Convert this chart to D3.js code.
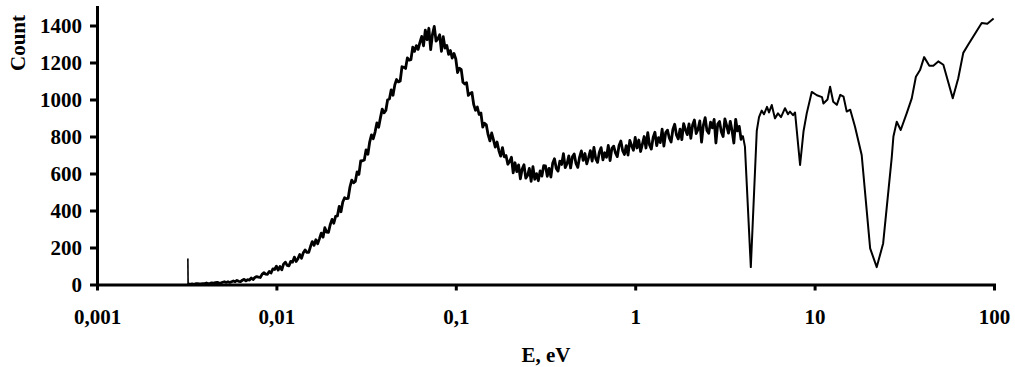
<!DOCTYPE html>
<html>
<head>
<meta charset="utf-8">
<script src="https://cdn.jsdelivr.net/npm/d3@7"></script>
<style>
  body { margin: 0; background: #fff; }
  text { font-family: "Liberation Serif", "Times New Roman", serif; font-weight: bold; fill: #000; }
</style>
</head>
<body>
<div id="chart"></div>
<script>
// spectrum, split by energy range
var energyA = [0.00321, 0.00322,
  0.003236,0.003311,0.003388,0.003467,0.003548,0.003631,0.003715,0.003802,0.003890,0.003981,
  0.004074,0.004169,0.004266,0.004365,0.004467,0.004571,0.004677,0.004786,0.004898,0.005012,
  0.005129,0.005248,0.005370,0.005495,0.005623,0.005754,0.005888,0.006026,0.006166,0.006310,
  0.006457,0.006607,0.006761,0.006918,0.007079,0.007244,0.007413,0.007586,0.007762,0.007943,
  0.008128,0.008318,0.008511,0.008710,0.008913,0.009120,0.009333,0.009550,0.009772];
var countA = [140, 1,
  3,1,3,1,4,5,3,3,5,5,
  8,4,6,9,6,10,11,9,8,12,
  15,11,15,11,15,19,15,22,17,16,
  23,28,20,26,24,35,27,38,43,40,
  38,55,64,56,55,70,62,84,81];

var energyB = [
  0.01000,0.01023,0.01047,0.01072,0.01096,0.01122,0.01148,0.01175,0.01202,0.01230,
  0.01259,0.01288,0.01318,0.01349,0.01380,0.01413,0.01445,0.01479,0.01514,0.01549,
  0.01585,0.01622,0.01660,0.01698,0.01738,0.01778,0.01820,0.01862,0.01905,0.01950,
  0.01995,0.02042,0.02089,0.02138,0.02188,0.02239,0.02291,0.02344,0.02399,0.02455,
  0.02512,0.02570,0.02630,0.02692,0.02754,0.02818,0.02884,0.02951,0.03020,0.03090,
  0.03162,0.03236,0.03311,0.03388,0.03467,0.03548,0.03631,0.03715,0.03802,0.03890,
  0.03981,0.04074,0.04169,0.04266,0.04365,0.04467,0.04571,0.04677,0.04786,0.04898,
  0.05012,0.05129,0.05248,0.05370,0.05495,0.05623,0.05754,0.05888,0.06026,0.06166,
  0.06310,0.06457,0.06607,0.06761,0.06918,0.07079,0.07244,0.07413,0.07586,0.07762,
  0.07943,0.08128,0.08318,0.08511,0.08710,0.08913,0.09120,0.09333,0.09550,0.09772];
var countB = [
  99,78,97,79,110,121,103,101,125,121,
  148,124,139,162,142,172,187,174,174,205,
  232,212,242,220,248,278,256,307,283,282,
  323,352,331,368,371,422,393,446,469,464,
  466,527,564,550,557,609,595,668,669,673,
  728,704,770,809,788,824,873,850,902,948,
  928,941,999,1003,1052,1023,1079,1108,1095,1100,
  1177,1174,1168,1225,1213,1216,1283,1260,1291,1271,
  1309,1341,1290,1375,1323,1385,1270,1352,1395,1316,
  1328,1350,1260,1340,1278,1292,1244,1265,1224,1249];

var energyC = [
  0.1000,0.1023,0.1047,0.1072,0.1096,0.1122,0.1148,0.1175,0.1202,0.1230,
  0.1259,0.1288,0.1318,0.1349,0.1380,0.1413,0.1445,0.1479,0.1514,0.1549,
  0.1585,0.1622,0.1660,0.1698,0.1738,0.1778,0.1820,0.1862,0.1905,0.1950,
  0.1995,0.2042,0.2089,0.2138,0.2188,0.2239,0.2291,0.2344,0.2399,0.2455,
  0.2512,0.2570,0.2630,0.2692,0.2754,0.2818,0.2884,0.2951,0.3020,0.3090,
  0.3162,0.3236,0.3311,0.3388,0.3467,0.3548,0.3631,0.3715,0.3802,0.3890,
  0.3981,0.4074,0.4169,0.4266,0.4365,0.4467,0.4571,0.4677,0.4786,0.4898,
  0.5012,0.5129,0.5248,0.5370,0.5495,0.5623,0.5754,0.5888,0.6026,0.6166,
  0.6310,0.6457,0.6607,0.6761,0.6918,0.7079,0.7244,0.7413,0.7586,0.7762,
  0.7943,0.8128,0.8318,0.8511,0.8710,0.8913,0.9120,0.9333,0.9550,0.9772];
var countC = [
  1219,1146,1169,1163,1093,1084,1091,1022,1033,1038,
  972,942,959,919,927,851,872,863,810,776,
  819,782,743,770,724,694,740,690,697,650,
  665,688,604,658,610,647,571,624,647,575,
  589,628,558,637,569,599,561,614,586,642,
  641,585,628,581,655,680,627,613,667,649,
  707,632,653,695,630,690,706,654,633,689,
  722,671,708,652,686,724,667,741,680,660,
  715,740,674,712,688,752,670,736,748,711,
  691,751,776,724,703,751,700,779,750,726];

var energyD = [
  1.000,1.023,1.047,1.072,1.096,1.122,1.148,1.175,1.202,1.230,
  1.259,1.288,1.318,1.349,1.380,1.413,1.445,1.479,1.514,1.549,
  1.585,1.622,1.660,1.698,1.738,1.778,1.820,1.862,1.905,1.950,
  1.995,2.042,2.089,2.138,2.188,2.239,2.291,2.344,2.399,2.455,
  2.512,2.570,2.630,2.692,2.754,2.818,2.884,2.951,3.020,3.090,
  3.162,3.236,3.311,3.388,3.467,3.548,3.631,3.715,3.802,3.890,
  3.981];
var countD = [
  795,738,781,719,757,800,738,821,754,732,
  795,823,751,794,767,840,748,821,834,792,
  770,838,866,809,787,840,783,870,838,810,
  868,790,862,889,816,838,884,770,861,902,
  832,817,877,847,892,765,867,881,826,800,
  895,859,818,882,831,765,893,830,855,785,
  805];

var energyTail = [4.09,4.41,4.76,4.90,5.07,5.22,5.43,5.57,5.77,6.01,6.25,6.50,6.84,7.11,7.29,
  7.58,7.78,8.30,8.68,9.04,9.64,10.3,11.0,11.2,11.8,12.2,12.7,13.3,13.9,14.5,15.1,15.8,16.8,
  18.3,20.4,22.2,24.1,26.9,27.5,28.7,30.2,32.6,34.8,36.7,38.7,40.8,43.6,45.9,48.9,52.2,58.9,
  63.2,67.4,71.9,85.4,91.8,99.5];
var countTail = [745,94,830,905,940,920,960,930,970,898,925,905,953,920,935,
  915,930,646,830,925,1041,1023,1013,978,1000,1069,988,971,1025,1015,935,945,853,
  700,195,94,222,684,800,880,835,925,1006,1123,1159,1229,1183,1183,1206,1188,1007,
  1115,1252,1297,1414,1410,1438];

var xTicks = [0.001, 0.01, 0.1, 1, 10, 100];
var xTickLabels = ["0,001", "0,01", "0,1", "1", "10", "100"];
var yTicks = [0, 200, 400, 600, 800, 1000, 1200, 1400];

var svgWidth = 1015;
var svgHeight = 367;
var margin = { top: 7, right: 21, bottom: 82.5, left: 97 };
var width = svgWidth - margin.left - margin.right;
var height = svgHeight - margin.top - margin.bottom;

function toPoints(es, cs) {
  return es.map(function(e, i) { return { e: e, c: cs[i] }; });
}

// thin spike at the start, dense low-energy part, and the sparse tail
var all = toPoints(energyA.concat(energyB, energyC, energyD), countA.concat(countB, countC, countD));
var spike = all.slice(0, 2);
var dense = all.slice(1);
var tail = [dense[dense.length - 1]].concat(toPoints(energyTail, countTail));

var svg = d3.select("#chart")
  .append("svg")
  .attr("width", svgWidth)
  .attr("height", svgHeight);

var chartGroup = svg.append("g")
  .attr("transform", `translate(${margin.left}, ${margin.top})`);

var xScale = d3.scaleLog()
  .domain([0.001, 100])
  .range([0, width]);

var yScale = d3.scaleLinear()
  .domain([0, 1500])
  .range([height, 0]);

var line = d3.line()
  .x(d => xScale(d.e))
  .y(d => yScale(d.c));

[[spike, 1.6], [dense, 2.8], [tail, 2]].forEach(function(p) {
  chartGroup.append("path")
    .datum(p[0])
    .attr("fill", "none")
    .attr("stroke", "#000")
    .attr("stroke-width", p[1])
    .attr("stroke-linejoin", "round")
    .attr("d", line);
});

// axes
var bottomAxis = d3.axisBottom(xScale)
  .tickValues(xTicks)
  .tickFormat((d, i) => xTickLabels[i])
  .tickSize(6)
  .tickSizeOuter(0);

var leftAxis = d3.axisLeft(yScale)
  .tickValues(yTicks)
  .tickFormat(d3.format("d"))
  .tickSize(7)
  .tickPadding(8)
  .tickSizeOuter(0);

var xAxisG = chartGroup.append("g")
  .attr("transform", `translate(0, ${height})`)
  .call(bottomAxis);

var yAxisG = chartGroup.append("g")
  .call(leftAxis);

[xAxisG, yAxisG].forEach(function(g) {
  g.select(".domain").attr("stroke", "#000").attr("stroke-width", 3).attr("stroke-linecap", "square");
  g.selectAll(".tick line").attr("stroke", "#000").attr("stroke-width", 3);
  g.selectAll("text")
    .style("font-family", "'Liberation Serif', 'Times New Roman', serif")
    .style("font-weight", "bold")
    .style("font-size", "21px")
    .attr("fill", "#000");
});

xAxisG.selectAll("text")
  .attr("y", 39)
  .attr("dy", 0);

// axis titles
svg.append("text")
  .attr("transform", "translate(25, 43) rotate(-90)")
  .attr("text-anchor", "middle")
  .style("font-size", "21px")
  .text("Count");

svg.append("text")
  .attr("x", 546)
  .attr("y", 362)
  .attr("text-anchor", "middle")
  .style("font-size", "21px")
  .text("E, eV");
</script>
</body>
</html>
